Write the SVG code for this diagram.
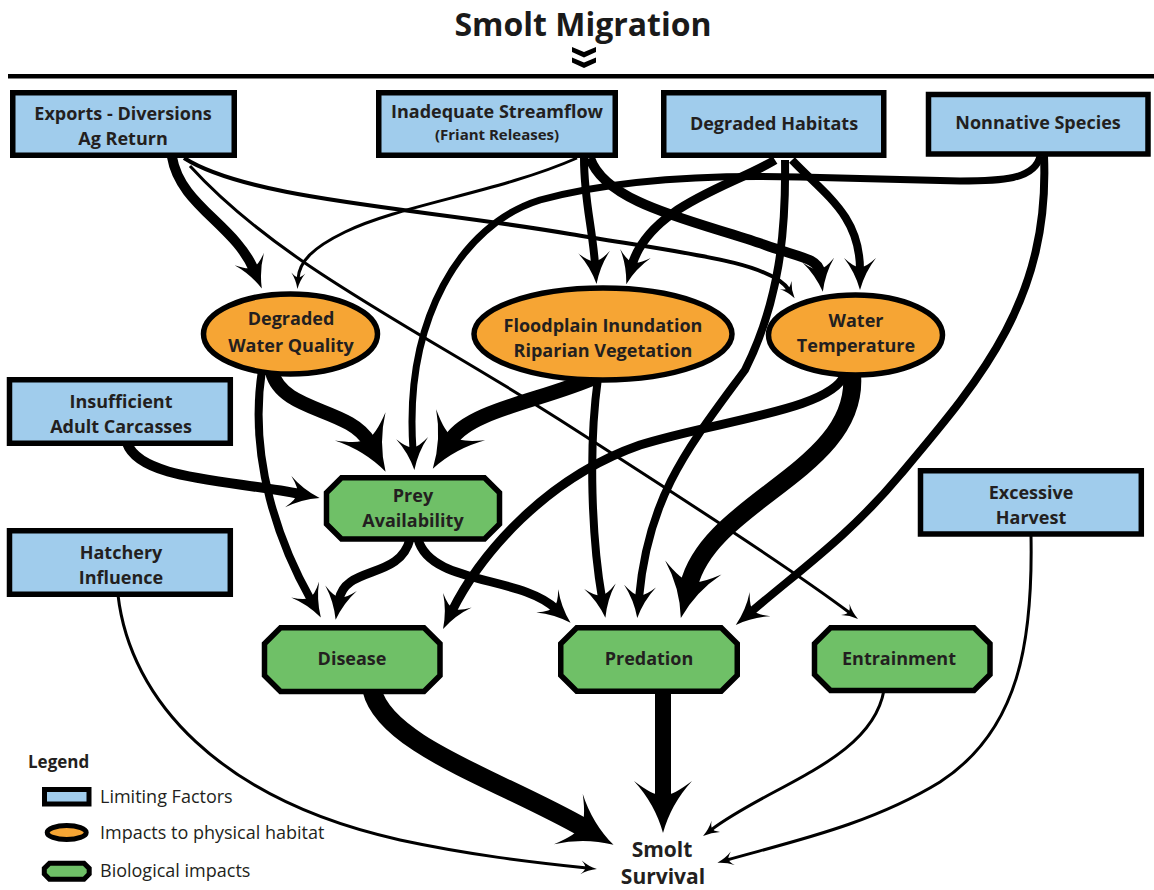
<svg xmlns="http://www.w3.org/2000/svg" width="1154" height="890" viewBox="0 0 1154 890">
<style>
.lf{fill:#a0ccec;stroke:#000;stroke-width:5.5}
.ph{fill:#f6a534;stroke:#000;stroke-width:5.5}
.bi{fill:#6fc067;stroke:#000;stroke-width:5.5}
.t{font-family:"Open Sans","Liberation Sans",sans-serif;font-weight:700;font-size:18px;fill:#231f20;text-anchor:middle}
.ts{font-size:15px}
.tb{font-size:21px}
.lg{font-family:"Open Sans","Liberation Sans",sans-serif;font-size:18px;fill:#231f20}
.c path{fill:none;stroke:#000;stroke-linecap:butt}
.s{stroke-width:3;marker-end:url(#aS)}
.m{marker-end:url(#aM)}
.l{marker-end:url(#aL)}
</style>
<defs>
<marker id="aS" markerUnits="userSpaceOnUse" markerWidth="30" markerHeight="30" refX="6" refY="0" orient="auto" overflow="visible"><path d="M16,0 Q7,-2 0,-7 Q5,-2 4,0 Q5,2 0,7 Q7,2 16,0 Z" fill="#000"/></marker>
<marker id="aM" markerUnits="userSpaceOnUse" markerWidth="40" markerHeight="40" refX="12" refY="0" orient="auto" overflow="visible"><path d="M32,0 Q14,-5 0,-16 Q10,-5 9,0 Q10,5 0,16 Q14,5 32,0 Z" fill="#000"/></marker>
<marker id="aL" markerUnits="userSpaceOnUse" markerWidth="60" markerHeight="60" refX="18" refY="0" orient="auto" overflow="visible"><path d="M52,0 Q23,-8 0,-29 Q16,-8 14,0 Q16,8 0,29 Q23,8 52,0 Z" fill="#000"/></marker>
</defs>
<rect width="1154" height="890" fill="#fff"/>
<g id="title">
<text x="583" y="36" style="font-family:'Open Sans','Liberation Sans',sans-serif;font-weight:700;font-size:32px;fill:#1a1a1a;text-anchor:middle">Smolt Migration</text>
<path d="M572,47 L584,52 L596,47 L596,52 L584,57.5 L572,52 Z M572,57.5 L584,62.5 L596,57.5 L596,62.5 L584,68 L572,62.5 Z" fill="#000"/>
<line x1="8" y1="76.3" x2="1154" y2="76.3" stroke="#000" stroke-width="4.5"/>
</g>
<g id="connectors" class="c">
<path class="m" stroke-width="10" d="M172,157 C180,205 235,225 254,270"/>
<path class="s" style="stroke-width:4" d="M184,158 C250,200 420,208 570,234 C690,254 770,262 789,290"/>
<path class="s" d="M190,166 C280,265 420,330 560,420 C680,497 790,568 850,613"/>
<path class="s" d="M577,158 C500,192 400,205 345,232 C312,248 299,262 298,279"/>
<path class="m" stroke-width="8" d="M584,158 C584,200 592,225 595,264"/>
<path class="m" stroke-width="10" d="M590,158 C606,205 700,222 765,245 C798,257 818,258 820,272"/>
<path class="m" stroke-width="9" d="M775,160 C735,185 650,205 632,265"/>
<path class="m" stroke-width="7" d="M1040,156 C1035,180 1000,181 960,181 L800,177 C720,175 620,178 540,200 C460,225 404,320 413,450"/>
<path class="m" stroke-width="8" d="M785,160 C786,230 780,300 745,370 C690,445 648,495 639,598"/>
<path class="m" stroke-width="8" d="M792,160 C825,195 860,215 860,270"/>
<path class="m" stroke-width="8" d="M1044,156 C1050,300 980,380 900,475 C850,535 800,570 751,612"/>
<path class="l" stroke-width="14" d="M272,372 C282,412 350,408 369,442"/>
<path class="m" stroke-width="8" d="M262,370 C248,460 280,545 311,600"/>
<path class="l" stroke-width="15" d="M598,376 C545,400 470,410 451,440"/>
<path class="m" stroke-width="8" d="M598,378 C588,450 592,540 602,598"/>
<path class="m" stroke-width="9" d="M845,374 C832,410 720,420 640,445 C545,478 480,555 452,611"/>
<path class="l" stroke-width="18" d="M852,374 C860,470 710,500 689,585"/>
<path class="m" stroke-width="10" d="M127,443 C140,480 230,480 300,494"/>
<path class="m" stroke-width="9" d="M410,539 C400,580 345,565 339,600"/>
<path class="m" stroke-width="9" d="M418,539 C430,585 520,575 556,609"/>
<path class="s" d="M118,595 C130,700 220,800 400,840 C470,855 530,862 587,868"/>
<path class="l" stroke-width="19" d="M372,690 C385,745 500,780 584,828"/>
<path class="l" stroke-width="16" d="M663,690 L663,799"/>
<path class="s" d="M884,690 C872,760 770,785 711,830"/>
<path class="s" d="M1031,535 C1033,640 1020,730 940,782 C870,825 790,842 727,860"/>
</g>
<g id="n-exports"><rect class="lf" x="12.75" y="92.75" width="221.5" height="62.5"/><text class="t" x="123" y="120">Exports - Diversions</text><text class="t" x="123" y="145">Ag Return</text></g>
<g id="n-streamflow"><rect class="lf" x="378.75" y="92.75" width="236.5" height="62.5"/><text class="t" x="497" y="118">Inadequate Streamflow</text><text class="t ts" x="497" y="140">(Friant Releases)</text></g>
<g id="n-habitats"><rect class="lf" x="663.75" y="92.75" width="220" height="62.5"/><text class="t" x="774" y="130">Degraded Habitats</text></g>
<g id="n-nonnative"><rect class="lf" x="928.5" y="94.5" width="219.5" height="59.5"/><text class="t" x="1038" y="128.5">Nonnative Species</text></g>
<g id="n-carcasses"><rect class="lf" x="9.5" y="379.75" width="220.8" height="63.5"/><text class="t" x="121" y="407.5">Insufficient</text><text class="t" x="121" y="432.5">Adult Carcasses</text></g>
<g id="n-hatchery"><rect class="lf" x="9.5" y="530.75" width="220.8" height="63.5"/><text class="t" x="121" y="559">Hatchery</text><text class="t" x="121" y="583.5">Influence</text></g>
<g id="n-harvest"><rect class="lf" x="920.5" y="470.75" width="220.8" height="63.25"/><text class="t" x="1031" y="498.5">Excessive</text><text class="t" x="1031" y="523.5">Harvest</text></g>
<g id="n-dwq"><ellipse class="ph" cx="290.5" cy="334" rx="87" ry="40"/><text class="t" x="291" y="325">Degraded</text><text class="t" x="291" y="351.5">Water Quality</text></g>
<g id="n-floodplain"><ellipse class="ph" cx="603" cy="334" rx="129" ry="46"/><text class="t" x="603" y="331.5">Floodplain Inundation</text><text class="t" x="603" y="356.5">Riparian Vegetation</text></g>
<g id="n-watertemp"><ellipse class="ph" cx="855.5" cy="335" rx="87" ry="40"/><text class="t" x="856" y="326.5">Water</text><text class="t" x="856" y="351.5">Temperature</text></g>
<g id="n-prey"><path class="bi" d="M341.5,477.75 H484.5 L499.5,492.75 V524 L484.5,539 H341.5 L326.5,524 V492.75 Z"/><text class="t" x="413" y="501.5">Prey</text><text class="t" x="413" y="526.5">Availability</text></g>
<g id="n-disease"><path class="bi" d="M280.5,627.75 H424 L440,643.75 V675.5 L424,691.5 H280.5 L264.5,675.5 V643.75 Z"/><text class="t" x="352" y="665">Disease</text></g>
<g id="n-predation"><path class="bi" d="M576.75,627.75 H721.25 L737.25,643.75 V675.25 L721.25,691.25 H576.75 L560.75,675.25 V643.75 Z"/><text class="t" x="649" y="665">Predation</text></g>
<g id="n-entrainment"><path class="bi" d="M830.5,627.75 H974 L990,643.75 V674.5 L974,690.5 H830.5 L814.5,674.5 V643.75 Z"/><text class="t" x="899" y="665">Entrainment</text></g>
<g id="n-survival"><text class="t tb" x="662" y="857">Smolt</text><text class="t tb" x="663" y="883.5">Survival</text></g>
<g id="legend">
<text x="28" y="768" style="font-family:'Open Sans','Liberation Sans',sans-serif;font-weight:700;font-size:17px;fill:#231f20">Legend</text>
<rect class="lf" x="44.5" y="789.5" width="44.5" height="14.5" style="stroke-width:5"/>
<ellipse class="ph" cx="66.7" cy="832.5" rx="19.5" ry="7" style="stroke-width:5"/>
<path class="bi" d="M49.5,863.2 H84 L89.2,868.4 V874 L84,879.2 H49.5 L44.3,874 V868.4 Z" style="stroke-width:5"/>
<text class="lg" x="100" y="803.3">Limiting Factors</text>
<text class="lg" x="100" y="839.3">Impacts to physical habitat</text>
<text class="lg" x="100" y="876.7">Biological impacts</text>
</g>
</svg>
